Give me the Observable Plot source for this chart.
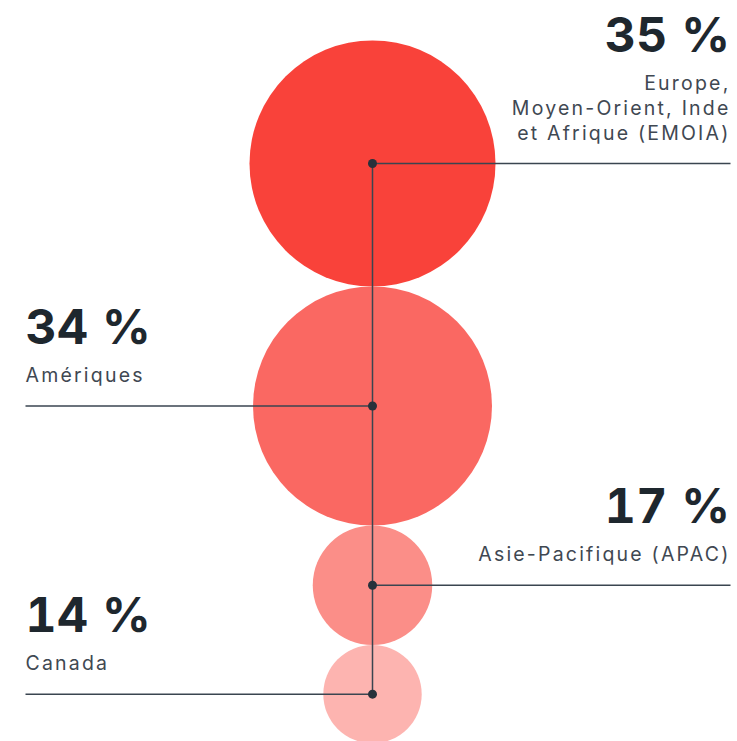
<!DOCTYPE html>
<html>
<head>
<meta charset="utf-8">
<script src="https://cdn.jsdelivr.net/npm/d3@7"></script>
<script src="https://cdn.jsdelivr.net/npm/@observablehq/plot@0.6"></script>
<style>
  html, body { margin: 0; padding: 0; background: #ffffff; }
  #chart { width: 737px; height: 741px; overflow: hidden; }
</style>
</head>
<body>
<div id="chart"></div>
<script>
// ---- data ----
const regions = ["Europe,\nMoyen-Orient, Inde\net Afrique (EMOIA)", "Amériques", "Asie-Pacifique (APAC)", "Canada"];
const shares = [35, 34, 17, 14];

// ---- layout ----
const W = 737, H = 741;
const maxR = 123;                   // pixel radius of the largest share
const unit = maxR / d3.max(shares); // px per percentage point
const top0 = 40;                    // pixel y of the first circle's top
const CX = (372 - 25) / (730 - 25); // x of the spine in the [0,1] x domain

// circles stacked so that consecutive ones touch
let acc = 0;
const data = shares.map((s, i) => {
  const cy = i === 0 ? s : acc + shares[i - 1] + s;
  acc = cy;
  return {
    region: regions[i],
    share: s,
    cy,
    side: i % 2 === 0 ? "right" : "left",
    lines: regions[i].split("\n").length
  };
});

const lineColor = "#3a4550";
const textDark = "#1e272e";
const textGrey = "#3f4852";

const textMarks = data.flatMap(d => {
  const right = d.side === "right";
  const common = {
    x: () => (right ? 1 : 0),
    y: "cy",
    textAnchor: right ? "end" : "start"
  };
  return [
    Plot.text([d], {
      ...common,
      text: e => `${e.share} %`,
      fontSize: 48,
      fontWeight: 700,
      fill: textDark,
      lineAnchor: "bottom",
      dx: right ? 0 : 0,
      dy: -62 - 25 * (d.lines - 1)
    }),
    Plot.text([d], {
      ...common,
      text: "region",
      fontSize: 19.5,
      fill: textGrey,
      lineAnchor: "bottom",
      lineHeight: 25 / 19.5,
      dx: 0,
      dy: -24
    })
  ];
});

const chart = Plot.plot({
  width: W,
  height: H,
  margin: 0,
  style: { fontFamily: "Inter, 'Noto Sans', sans-serif", background: "#ffffff", overflow: "hidden" },
  x: { domain: [0, 1], range: [25, 730], axis: null },
  y: { domain: [0, 200], range: [top0, top0 + 200 * unit], axis: null },
  r: { type: "linear", domain: [0, d3.max(shares)], range: [0, maxR] },
  color: { domain: regions, range: ["#F9423A", "#FA6862", "#FB8E88", "#FDB4B0"] },
  marks: [
    Plot.dot(data, { x: () => CX, y: "cy", r: "share", fill: "region", stroke: null }),
    Plot.ruleX([CX], {
      x: d => d,
      y1: () => data[0].cy,
      y2: () => data[data.length - 1].cy,
      stroke: lineColor,
      strokeWidth: 1.5
    }),
    Plot.link(data, {
      x1: () => CX,
      x2: d => (d.side === "right" ? 1 : 0),
      y1: "cy",
      y2: "cy",
      stroke: lineColor,
      strokeWidth: 1.5
    }),
    Plot.dot(data, { x: () => CX, y: "cy", r: 4.5, fill: "#27313b", stroke: null }),
    ...textMarks
  ]
});

// typographic tweaks: tracking on labels, tabular figures on percentages
d3.select(chart).selectAll('g[aria-label="text"]').each(function () {
  const g = d3.select(this);
  const fs = g.attr("font-size");
  if (fs === "19.5") g.style("letter-spacing", "2.2px");
  if (fs === "48") g.style("font-variant-numeric", "tabular-nums").style("letter-spacing", "0.5px");
});

document.getElementById("chart").appendChild(chart);
</script>
</body>
</html>
